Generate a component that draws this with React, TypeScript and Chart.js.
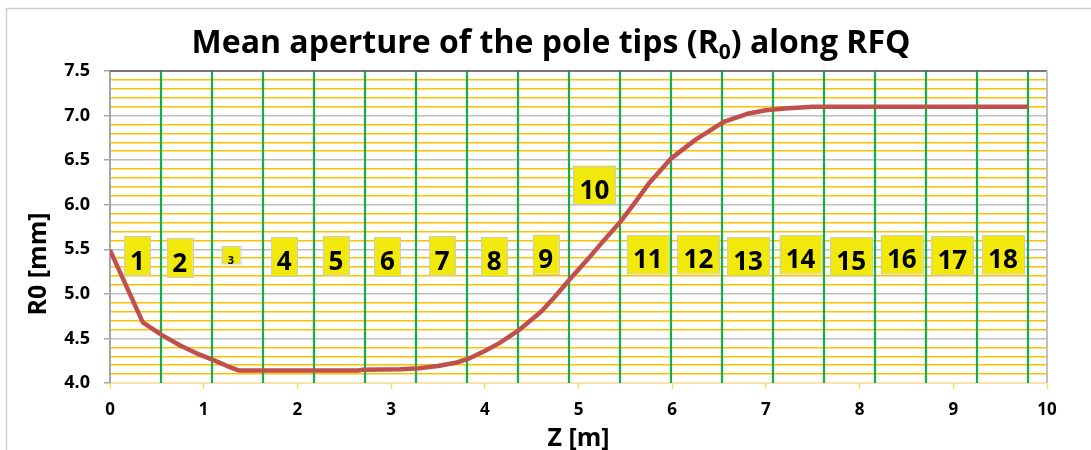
import React, { useEffect, useRef } from "react";
import { Chart, registerables } from "chart.js";

Chart.register(...registerables);

// Mean pole-tip aperture R0 [mm] along the RFQ length Z [m]
const zPositions = [
  0, 0.35, 0.55, 0.75, 0.95, 1.1, 1.25, 1.38, 2.0, 2.65, 2.7, 3.1, 3.3, 3.5, 3.7,
  3.82, 4.0, 4.16, 4.36, 4.6, 4.75, 4.9, 5.1, 5.25, 5.44, 5.6, 5.76, 5.99, 6.25,
  6.55, 6.8, 7.0, 7.2, 7.5, 9.8,
];
const r0Values = [
  5.49, 4.68, 4.54, 4.42, 4.32, 4.26, 4.19, 4.14, 4.14, 4.14, 4.15, 4.155, 4.165,
  4.19, 4.23, 4.27, 4.36, 4.45, 4.59, 4.8, 4.97, 5.155, 5.39, 5.575, 5.8, 6.02,
  6.25, 6.52, 6.73, 6.93, 7.02, 7.06, 7.08, 7.1, 7.1,
];

// Section boundaries along the RFQ (vertical green lines)
const sectionEnds = [
  0.544, 1.089, 1.633, 2.178, 2.722, 3.267, 3.811, 4.356, 4.9, 5.444, 5.989, 6.533,
  7.078, 7.622, 8.167, 8.711, 9.256, 9.8,
];

// Section number tags
const sectionLabels = [
  "1", "2", "3", "4", "5", "6", "7", "8", "9", "10", "11", "12", "13", "14", "15",
  "16", "17", "18",
];
const labelZ = [
  0.293, 0.745, 1.29, 1.86, 2.41, 2.96, 3.545, 4.1, 4.65, 5.17, 5.74, 6.28, 6.81,
  7.37, 7.91, 8.45, 8.99, 9.53,
];
const labelR = [
  5.425, 5.405, 5.436, 5.42, 5.425, 5.42, 5.425, 5.42, 5.445, 6.223, 5.44, 5.444,
  5.42, 5.444, 5.42, 5.44, 5.43, 5.44,
];

const xTickValues = [0, 1, 2, 3, 4, 5, 6, 7, 8, 9, 10];
const yTickValues: number[] = [];
for (let i = 40; i <= 75; i++) yTickValues.push(i / 10);

const titleMain = "Mean aperture of the pole tips (R";
const titleSub = "0";
const titleTail = ") along RFQ";
const xTitle = "Z [m]";
const yTitle = "R0 [mm]";

const FONT = "'Open Sans', Lato, 'DejaVu Sans', sans-serif";
const isMajor = (v: number) => Math.abs(v * 2 - Math.round(v * 2)) < 1e-6;
const smallTags = new Set(["3"]);

const decorPlugin = {
  id: "decor",
  beforeDraw(chart: any) {
    const { ctx, width, height } = chart;
    ctx.save();
    ctx.fillStyle = "#ffffff";
    ctx.fillRect(0, 0, width, height);
    ctx.strokeStyle = "#cfcfcf";
    ctx.lineWidth = 1.5;
    ctx.strokeRect(6.5, 8.5, width + 50, height + 50);
    ctx.restore();
  },
  beforeDatasetsDraw(chart: any) {
    const { ctx, chartArea } = chart;
    const xs = chart.scales.x;
    ctx.save();
    // section boundaries
    ctx.strokeStyle = "#14ad4a";
    ctx.lineWidth = 2.2;
    sectionEnds.forEach((z) => {
      const px = Math.round(xs.getPixelForValue(z));
      ctx.beginPath();
      ctx.moveTo(px, chartArea.top);
      ctx.lineTo(px, chartArea.bottom);
      ctx.stroke();
    });
    // plot frame: dark top edge, grey right edge
    ctx.strokeStyle = "#595959";
    ctx.lineWidth = 1.5;
    ctx.beginPath();
    ctx.moveTo(chartArea.left, chartArea.top);
    ctx.lineTo(chartArea.right, chartArea.top);
    ctx.stroke();
    ctx.strokeStyle = "#bfbfbf";
    ctx.lineWidth = 2;
    ctx.beginPath();
    ctx.moveTo(chartArea.right, chartArea.top);
    ctx.lineTo(chartArea.right, chartArea.bottom);
    ctx.stroke();
    ctx.restore();
  },
  afterDatasetsDraw(chart: any) {
    const { ctx, chartArea } = chart;
    const xs = chart.scales.x;
    const ys = chart.scales.y;
    ctx.save();
    // section tags
    sectionLabels.forEach((label, i) => {
      const cx = xs.getPixelForValue(labelZ[i]);
      const cy = ys.getPixelForValue(labelR[i]);
      const small = smallTags.has(label);
      const w = small ? 18.5 : label.length > 1 ? 42 : 26;
      const h = small ? 17.5 : label.length > 1 ? 38.5 : 39;
      ctx.fillStyle = "#f2e90c";
      ctx.fillRect(cx - w / 2, cy - h / 2, w, h);
      ctx.strokeStyle = "#cbcbcb";
      ctx.lineWidth = 1;
      ctx.strokeRect(Math.round(cx - w / 2) + 0.5, Math.round(cy - h / 2) + 0.5, w, h);
      ctx.fillStyle = "#000000";
      ctx.textAlign = "center";
      ctx.textBaseline = "alphabetic";
      ctx.font = `bold ${small ? 11 : 26}px ${FONT}`;
      ctx.fillText(label, cx, cy + (small ? 8.8 : 13.8));
    });

    // chart title with subscript
    const bigFont = `bold 32px ${FONT}`;
    const subFont = `bold 21px ${FONT}`;
    ctx.font = bigFont;
    const w1 = ctx.measureText(titleMain).width;
    const w3 = ctx.measureText(titleTail).width;
    ctx.font = subFont;
    const w2 = ctx.measureText(titleSub).width;
    const total = w1 + w2 + w3;
    let tx = 551 - total / 2;
    const base = 53;
    ctx.textAlign = "left";
    ctx.fillStyle = "#000000";
    ctx.font = bigFont;
    ctx.fillText(titleMain, tx, base);
    tx += w1;
    ctx.font = subFont;
    ctx.fillText(titleSub, tx, base + 6);
    tx += w2;
    ctx.font = bigFont;
    ctx.fillText(titleTail, tx, base);

    // axis titles
    ctx.font = `bold 25px ${FONT}`;
    ctx.textAlign = "center";
    ctx.fillText(xTitle, (chartArea.left + chartArea.right) / 2, 446);
    ctx.translate(chartArea.left - 64, (chartArea.top + chartArea.bottom) / 2 + 37);
    ctx.rotate(-Math.PI / 2);
    ctx.fillText(yTitle, 0, 0);
    ctx.restore();
  },
};

export default function App() {
  const canvasRef = useRef<HTMLCanvasElement | null>(null);

  useEffect(() => {
    if (!canvasRef.current) return;
    const points = zPositions.map((z, i) => ({ x: z, y: r0Values[i] }));
    const chart = new Chart(canvasRef.current, {
      type: "line",
      data: {
        datasets: [
          {
            label: "R0",
            data: points,
            borderColor: "#c0504d",
            borderWidth: 4.5,
            pointRadius: 0,
            tension: 0,
            borderJoinStyle: "round",
            borderCapStyle: "butt",
            fill: false,
          },
        ],
      },
      options: {
        animation: false,
        responsive: true,
        maintainAspectRatio: false,
        layout: { padding: { top: 71, right: 44, left: 0, bottom: 0 } },
        plugins: {
          legend: { display: false },
          title: { display: false },
          tooltip: { enabled: false },
        },
        scales: {
          x: {
            type: "linear",
            min: 0,
            max: 10,
            afterBuildTicks: (s: any) => {
              s.ticks = xTickValues.map((v) => ({ value: v }));
            },
            afterFit: (s: any) => {
              s.height = 67;
            },
            grid: {
              drawOnChartArea: false,
              drawTicks: true,
              tickLength: 6,
              tickColor: "#ffd966",
              tickWidth: 1.5,
            },
            border: { color: "#ffe699", width: 1.5 },
            ticks: {
              color: "#000000",
              font: { family: FONT, weight: "bold", size: 17 },
              padding: 11,
              maxRotation: 0,
              autoSkip: false,
            },
          },
          y: {
            type: "linear",
            min: 4,
            max: 7.5,
            afterBuildTicks: (s: any) => {
              s.ticks = yTickValues.map((v) => ({ value: v }));
            },
            afterFit: (s: any) => {
              s.width = 110;
            },
            grid: {
              color: (c: any) => (isMajor(c.tick.value) ? "#c0c0c0" : "#ffc000"),
              lineWidth: 1.5,
              drawTicks: true,
              tickLength: 6,
              tickColor: (c: any) =>
                isMajor(c.tick.value) ? "#a6a6a6" : "rgba(0,0,0,0)",
              tickWidth: 1.5,
            },
            border: { color: "#a6a6a6", width: 2 },
            ticks: {
              color: "#000000",
              font: { family: FONT, weight: "bold", size: 18 },
              padding: 14,
              autoSkip: false,
              callback: (v: any) => (isMajor(Number(v)) ? Number(v).toFixed(1) : ""),
            },
          },
        },
      },
      plugins: [decorPlugin],
    });
    return () => chart.destroy();
  }, []);

  return (
    <div
      style={{
        position: "absolute",
        left: 0,
        top: 0,
        width: 1091,
        height: 450,
        background: "#ffffff",
      }}
    >
      <canvas ref={canvasRef} />
    </div>
  );
}
